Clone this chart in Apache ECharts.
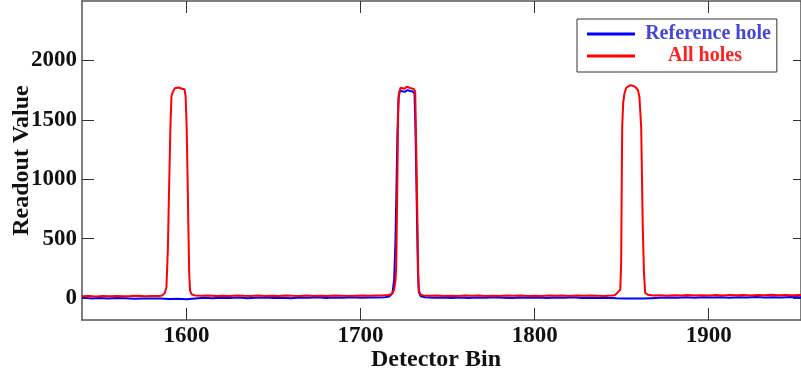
<!DOCTYPE html>
<html>
<head>
<meta charset="utf-8">
<script src="https://cdn.jsdelivr.net/npm/echarts@6/dist/echarts.min.js"></script>
<style>
  html, body { margin: 0; padding: 0; background: #fff; }
  #chart { width: 801px; height: 376px; }
</style>
</head>
<body>
<div id="chart"></div>
<script>
// readout vs detector bin as [bin, value]
var xTicks = [1600, 1700, 1800, 1900];
var yTicks = [0, 500, 1000, 1500, 2000];

var refHole = [
  [1540, 2], [1545, -3], [1550, 1], [1555, -4], [1560, 0], [1565, -2], [1570, -6],
  [1575, -3], [1580, -5], [1585, -4], [1590, -8], [1595, -6], [1600, -10], [1605, -4],
  [1610, 2], [1615, -1], [1620, 3], [1625, 0], [1630, 4], [1635, -2], [1640, 2],
  [1645, 5], [1650, 0], [1655, 3], [1660, -1], [1665, 4], [1670, 2], [1675, 6],
  [1680, 1], [1685, 4], [1690, 2], [1695, 6], [1700, 3], [1705, 5], [1710, 4],
  [1714, 7], [1716.5, 12], [1718.3, 40], [1719.3, 150], [1720, 450], [1720.6, 900],
  [1721.2, 1400], [1721.8, 1680], [1722.6, 1745], [1724, 1740], [1725.5, 1735],
  [1727, 1750], [1728.5, 1742], [1730, 1738], [1731, 1720], [1731.5, 1450],
  [1732, 1050], [1732.5, 600], [1733, 200], [1733.5, 50], [1734.5, 15], [1737, 6],
  [1742, 2], [1747, 5], [1752, 0], [1757, 4], [1762, 1], [1767, 5], [1772, 2],
  [1777, 6], [1782, 3], [1787, 0], [1792, 4], [1797, 2], [1802, 5], [1807, 1],
  [1812, 4], [1817, 2], [1822, 6], [1827, 1], [1832, 3], [1837, 0], [1842, 2],
  [1847, -2], [1852, -4], [1857, -3], [1862, -5], [1867, -1], [1872, 3], [1877, 5],
  [1882, 2], [1887, 6], [1892, 3], [1897, 7], [1902, 4], [1907, 6], [1912, 3],
  [1917, 7], [1922, 5], [1927, 8], [1932, 4], [1937, 7], [1942, 5], [1947, 8], [1953, 6]
];

var allHoles = [
  [1540, 14], [1544, 16], [1548, 13], [1552, 17], [1556, 15], [1560, 18], [1564, 14],
  [1568, 16], [1572, 19], [1576, 15], [1580, 17], [1584, 16], [1586, 22], [1587.5, 40],
  [1588.5, 90], [1589.3, 400], [1590, 900], [1590.8, 1450], [1591.4, 1700],
  [1592.2, 1735], [1593.3, 1765], [1594.3, 1778], [1595.5, 1772], [1596.5, 1775],
  [1597.5, 1762], [1598.8, 1758], [1599.5, 1700], [1600.1, 1450], [1600.6, 1050],
  [1601.1, 600], [1601.6, 200], [1602.1, 60], [1603, 30], [1605, 22], [1609, 19],
  [1613, 21], [1617, 17], [1621, 20], [1625, 18], [1629, 22], [1633, 19], [1637, 17],
  [1641, 21], [1645, 18], [1649, 20], [1653, 17], [1657, 21], [1661, 19], [1665, 18],
  [1669, 22], [1673, 17], [1677, 20], [1681, 18], [1685, 21], [1689, 19], [1693, 17],
  [1697, 20], [1701, 22], [1705, 19], [1709, 21], [1713, 23], [1716, 26], [1718, 35],
  [1719.3, 70], [1720.1, 150], [1720.5, 270], [1721.1, 935], [1721.6, 1555],
  [1722, 1720], [1723, 1770], [1724, 1768], [1725.3, 1762], [1726.5, 1778],
  [1727.5, 1775], [1728.5, 1768], [1729.5, 1772], [1730.5, 1760], [1731.4, 1740],
  [1732, 1245], [1732.6, 714], [1733.1, 210], [1733.5, 60], [1734.5, 30], [1736, 22],
  [1740, 19], [1744, 21], [1748, 18], [1752, 20], [1756, 17], [1760, 21], [1764, 19],
  [1768, 22], [1772, 18], [1776, 20], [1780, 17], [1784, 21], [1788, 19], [1792, 22],
  [1796, 18], [1800, 20], [1804, 17], [1808, 21], [1812, 19], [1816, 22], [1820, 18],
  [1824, 21], [1828, 19], [1832, 22], [1836, 20], [1840, 18], [1844, 21], [1846, 24],
  [1847.6, 45], [1849.2, 70], [1849.7, 300], [1850, 900], [1850.3, 1450],
  [1850.9, 1650], [1851.6, 1722], [1852.6, 1770], [1854.5, 1788], [1855.8, 1790],
  [1856.8, 1788], [1858, 1775], [1859.4, 1748], [1860.2, 1690], [1861.2, 1437],
  [1862.1, 597], [1862.8, 210], [1863.5, 42], [1865, 28], [1868, 22], [1872, 24],
  [1876, 20], [1880, 23], [1884, 21], [1888, 25], [1892, 22], [1896, 24], [1900, 21],
  [1904, 25], [1908, 22], [1912, 26], [1916, 23], [1920, 25], [1924, 22], [1928, 26],
  [1932, 24], [1936, 27], [1940, 23], [1944, 26], [1948, 24], [1953, 25]
];

var serif = "'Liberation Serif', 'Times New Roman', serif";
var chart = echarts.init(document.getElementById('chart'));

var axisLine = { show: true, onZero: false, lineStyle: { color: '#555', width: 1.5 } };
var plain = function (v) { return String(v); };

chart.setOption({
  animation: false,
  backgroundColor: '#fff',
  grid: { left: 82, right: 0, top: 1, bottom: 56, containLabel: false, outerBoundsMode: 'none' },
  legend: {
    left: 577, top: 19,
    orient: 'vertical',
    padding: [5, 6, 6, 10],
    itemGap: 2,
    itemWidth: 48, itemHeight: 3,
    icon: 'rect',
    borderColor: '#333', borderWidth: 1,
    backgroundColor: '#fff',
    data: ['Reference hole', 'All holes'],
    formatter: function (name) {
      return name === 'All holes' ? '{r|' + name + '}' : '{b|' + name + '}';
    },
    textStyle: {
      fontFamily: serif, fontWeight: 'bold', fontSize: 20,
      rich: {
        b: { color: '#4646d8', width: 124, padding: [0, 0, 0, 6], align: 'center', fontFamily: serif, fontWeight: 'bold', fontSize: 20 },
        r: { color: '#ff2020', width: 130, align: 'center', fontFamily: serif, fontWeight: 'bold', fontSize: 20 }
      }
    }
  },
  xAxis: [{
    type: 'value', position: 'bottom', min: 1540, max: 1953,
    name: 'Detector Bin', nameLocation: 'middle', nameGap: 28, nameMoveOverlap: false,
    nameTextStyle: { fontFamily: serif, fontWeight: 'bold', fontSize: 24, color: '#111', padding: [0, 11, 0, 0] },
    axisLine: axisLine,
    axisTick: { inside: true, length: 12, customValues: xTicks, lineStyle: { color: '#333' } },
    axisLabel: { customValues: xTicks, formatter: plain, margin: 5, fontFamily: serif, fontWeight: 'bold', fontSize: 23, color: '#111' },
    splitLine: { show: false }
  }, {
    type: 'value', position: 'top', min: 1540, max: 1953,
    axisLine: axisLine,
    axisTick: { inside: true, length: 12, customValues: xTicks, lineStyle: { color: '#333' } },
    axisLabel: { show: false },
    splitLine: { show: false }
  }],
  yAxis: [{
    type: 'value', position: 'left', min: -185, max: 2500,
    name: 'Readout Value', nameLocation: 'middle', nameGap: 48, nameMoveOverlap: false,
    nameTextStyle: { fontFamily: serif, fontWeight: 'bold', fontSize: 24, color: '#111' },
    axisLine: axisLine,
    axisTick: { inside: true, length: 12, customValues: yTicks, lineStyle: { color: '#333' } },
    axisLabel: { customValues: yTicks, formatter: plain, margin: 5, fontFamily: serif, fontWeight: 'bold', fontSize: 23, color: '#111' },
    splitLine: { show: false }
  }, {
    type: 'value', position: 'right', min: -185, max: 2500,
    axisLine: axisLine,
    axisTick: { inside: true, length: 8, customValues: yTicks, lineStyle: { color: '#333' } },
    axisLabel: { show: false },
    splitLine: { show: false }
  }],
  series: [{
    name: 'Reference hole', type: 'line', data: refHole,
    showSymbol: false, symbol: 'none',
    itemStyle: { color: '#0000ff' },
    lineStyle: { color: '#0000ff', width: 2 }
  }, {
    name: 'All holes', type: 'line', data: allHoles,
    showSymbol: false, symbol: 'none',
    itemStyle: { color: '#ff0000' },
    lineStyle: { color: '#ff0000', width: 2 }
  }]
});
</script>
</body>
</html>
